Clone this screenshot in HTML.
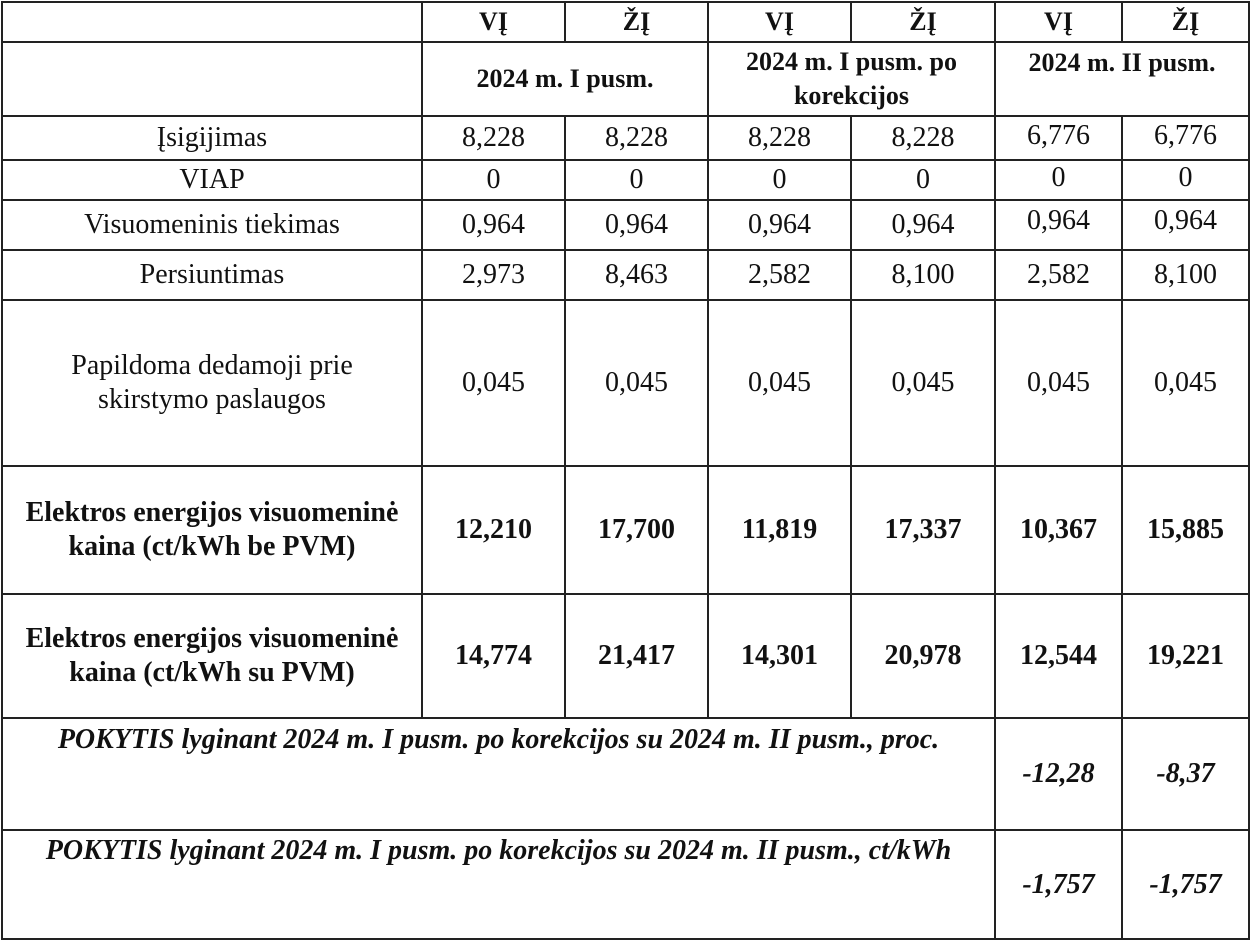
<!DOCTYPE html>
<html><head><meta charset="utf-8"><style>
body{margin:0;width:1250px;height:941px;background:#fff;position:relative;overflow:hidden;font-family:"Liberation Serif",serif;color:#111}
.c{position:absolute;display:flex;align-items:center;justify-content:center;text-align:center;font-size:28px;line-height:34px;white-space:nowrap}
.b{font-weight:bold;font-size:28px}
.i{font-style:italic;font-weight:bold;font-size:28px}
.hd{font-weight:bold;font-size:26px}
.h{position:absolute;height:2px;background:#222}
.v{position:absolute;width:2px;background:#222}
</style></head><body>
<div class="h" style="left:1px;width:1249px;top:1px"></div>
<div class="h" style="left:1px;width:1249px;top:41px"></div>
<div class="h" style="left:1px;width:1249px;top:115px"></div>
<div class="h" style="left:1px;width:1249px;top:159px"></div>
<div class="h" style="left:1px;width:1249px;top:199px"></div>
<div class="h" style="left:1px;width:1249px;top:249px"></div>
<div class="h" style="left:1px;width:1249px;top:299px"></div>
<div class="h" style="left:1px;width:1249px;top:465px"></div>
<div class="h" style="left:1px;width:1249px;top:593px"></div>
<div class="h" style="left:1px;width:1249px;top:717px"></div>
<div class="h" style="left:1px;width:1249px;top:829px"></div>
<div class="h" style="left:1px;width:1249px;top:938px"></div>
<div class="v" style="left:1px;top:1px;height:939px"></div>
<div class="v" style="left:1248px;top:1px;height:939px"></div>
<div class="v" style="left:994px;top:1px;height:939px"></div>
<div class="v" style="left:1121px;top:1px;height:41px"></div>
<div class="v" style="left:1121px;top:115px;height:825px"></div>
<div class="v" style="left:421px;top:1px;height:718px"></div>
<div class="v" style="left:707px;top:1px;height:718px"></div>
<div class="v" style="left:564px;top:1px;height:41px"></div>
<div class="v" style="left:564px;top:115px;height:604px"></div>
<div class="v" style="left:850px;top:1px;height:41px"></div>
<div class="v" style="left:850px;top:115px;height:604px"></div>

<div class="c hd" style="left:423px;top:3px;width:141px;height:38px">VĮ</div>
<div class="c hd" style="left:566px;top:3px;width:141px;height:38px">ŽĮ</div>
<div class="c hd" style="left:709px;top:3px;width:141px;height:38px">VĮ</div>
<div class="c hd" style="left:852px;top:3px;width:142px;height:38px">ŽĮ</div>
<div class="c hd" style="left:996px;top:3px;width:125px;height:38px">VĮ</div>
<div class="c hd" style="left:1123px;top:3px;width:125px;height:38px">ŽĮ</div>
<div class="c hd" style="left:423px;top:43px;width:284px;height:72px">2024 m. I pusm.</div>
<div class="c hd" style="left:709px;top:43px;width:285px;height:72px">2024 m. I pusm. po<br>korekcijos</div>
<div class="c hd" style="left:996px;top:43px;width:252px;height:40px">2024 m. II pusm.</div>

<div class="c" style="left:3px;top:117px;width:418px;height:42px">Įsigijimas</div>
<div class="c" style="left:423px;top:117px;width:141px;height:42px">8,228</div>
<div class="c" style="left:566px;top:117px;width:141px;height:42px">8,228</div>
<div class="c" style="left:709px;top:117px;width:141px;height:42px">8,228</div>
<div class="c" style="left:852px;top:117px;width:142px;height:42px">8,228</div>
<div class="c" style="left:996px;top:115px;width:125px;height:42px">6,776</div>
<div class="c" style="left:1123px;top:115px;width:125px;height:42px">6,776</div>

<div class="c" style="left:3px;top:161px;width:418px;height:38px">VIAP</div>
<div class="c" style="left:423px;top:161px;width:141px;height:38px">0</div>
<div class="c" style="left:566px;top:161px;width:141px;height:38px">0</div>
<div class="c" style="left:709px;top:161px;width:141px;height:38px">0</div>
<div class="c" style="left:852px;top:161px;width:142px;height:38px">0</div>
<div class="c" style="left:996px;top:159px;width:125px;height:38px">0</div>
<div class="c" style="left:1123px;top:159px;width:125px;height:38px">0</div>

<div class="c" style="left:3px;top:201px;width:418px;height:48px">Visuomeninis tiekimas</div>
<div class="c" style="left:423px;top:201px;width:141px;height:48px">0,964</div>
<div class="c" style="left:566px;top:201px;width:141px;height:48px">0,964</div>
<div class="c" style="left:709px;top:201px;width:141px;height:48px">0,964</div>
<div class="c" style="left:852px;top:201px;width:142px;height:48px">0,964</div>
<div class="c" style="left:996px;top:197px;width:125px;height:48px">0,964</div>
<div class="c" style="left:1123px;top:197px;width:125px;height:48px">0,964</div>

<div class="c" style="left:3px;top:251px;width:418px;height:48px">Persiuntimas</div>
<div class="c" style="left:423px;top:251px;width:141px;height:48px">2,973</div>
<div class="c" style="left:566px;top:251px;width:141px;height:48px">8,463</div>
<div class="c" style="left:709px;top:251px;width:141px;height:48px">2,582</div>
<div class="c" style="left:852px;top:251px;width:142px;height:48px">8,100</div>
<div class="c" style="left:996px;top:251px;width:125px;height:48px">2,582</div>
<div class="c" style="left:1123px;top:251px;width:125px;height:48px">8,100</div>

<div class="c" style="left:3px;top:301px;width:418px;height:164px">Papildoma dedamoji prie<br>skirstymo paslaugos</div>
<div class="c" style="left:423px;top:301px;width:141px;height:164px">0,045</div>
<div class="c" style="left:566px;top:301px;width:141px;height:164px">0,045</div>
<div class="c" style="left:709px;top:301px;width:141px;height:164px">0,045</div>
<div class="c" style="left:852px;top:301px;width:142px;height:164px">0,045</div>
<div class="c" style="left:996px;top:301px;width:125px;height:164px">0,045</div>
<div class="c" style="left:1123px;top:301px;width:125px;height:164px">0,045</div>

<div class="c b" style="left:3px;top:467px;width:418px;height:126px">Elektros energijos visuomeninė<br>kaina (ct/kWh be PVM)</div>
<div class="c b" style="left:423px;top:467px;width:141px;height:126px">12,210</div>
<div class="c b" style="left:566px;top:467px;width:141px;height:126px">17,700</div>
<div class="c b" style="left:709px;top:467px;width:141px;height:126px">11,819</div>
<div class="c b" style="left:852px;top:467px;width:142px;height:126px">17,337</div>
<div class="c b" style="left:996px;top:467px;width:125px;height:126px">10,367</div>
<div class="c b" style="left:1123px;top:467px;width:125px;height:126px">15,885</div>

<div class="c b" style="left:3px;top:595px;width:418px;height:122px">Elektros energijos visuomeninė<br>kaina (ct/kWh su PVM)</div>
<div class="c b" style="left:423px;top:595px;width:141px;height:122px">14,774</div>
<div class="c b" style="left:566px;top:595px;width:141px;height:122px">21,417</div>
<div class="c b" style="left:709px;top:595px;width:141px;height:122px">14,301</div>
<div class="c b" style="left:852px;top:595px;width:142px;height:122px">20,978</div>
<div class="c b" style="left:996px;top:595px;width:125px;height:122px">12,544</div>
<div class="c b" style="left:1123px;top:595px;width:125px;height:122px">19,221</div>

<div class="c i" style="left:3px;top:722px;width:991px;height:36px">POKYTIS lyginant 2024 m. I pusm. po korekcijos su 2024 m. II pusm., proc.</div>
<div class="c i" style="left:996px;top:719px;width:125px;height:110px">-12,28</div>
<div class="c i" style="left:1123px;top:719px;width:125px;height:110px">-8,37</div>

<div class="c i" style="left:3px;top:833px;width:991px;height:36px">POKYTIS lyginant 2024 m. I pusm. po korekcijos su 2024 m. II pusm., ct/kWh</div>
<div class="c i" style="left:996px;top:831px;width:125px;height:108px">-1,757</div>
<div class="c i" style="left:1123px;top:831px;width:125px;height:108px">-1,757</div>
</body></html>
